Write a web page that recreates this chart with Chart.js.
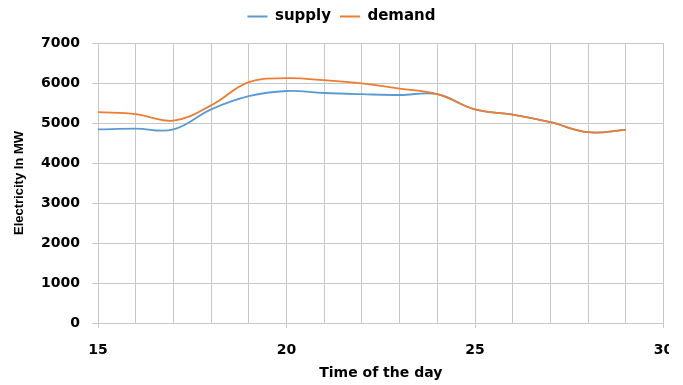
<!DOCTYPE html>
<html>
<head>
<meta charset="utf-8">
<script src="https://cdn.jsdelivr.net/npm/chart.js@4/dist/chart.umd.min.js"></script>
<style>
  html, body { margin: 0; padding: 0; background: #ffffff; overflow: hidden; }
  canvas { display: block; }
</style>
</head>
<body>
<canvas id="chart" width="683" height="385"></canvas>
<script>
// Hour of the day
const hours = [15, 16, 17, 18, 19, 20, 21, 22, 23, 24, 25, 26, 27, 28, 29];
// Electricity supply and demand in MW
const supply = [4840, 4860, 4840, 5340, 5670, 5800, 5750, 5720, 5700, 5720, 5340, 5210, 5020, 4770, 4830];
const demand = [5270, 5220, 5060, 5440, 6020, 6120, 6070, 5990, 5860, 5720, 5340, 5210, 5020, 4770, 4830];
// Axis ranges and labelled ticks
const xRange = [15, 30];
const xLabelEvery = 5;
const yRange = [0, 7000];
const yStep = 1000;

const BLUE = '#5B9BD5';
const ORANGE = '#ED7D31';
const GRID = '#c8c8c8';

const toPoints = (ys) => hours.map((h, i) => ({ x: h, y: ys[i] }));

// Reserve a fixed band above the plot for the legend and centre it on the canvas
const legendBand = {
  id: 'legendBand',
  beforeUpdate(chart) {
    const lg = chart.legend;
    if (lg && !lg._bandWrapped) {
      const fit = lg.fit.bind(lg);
      lg.fit = function () { fit(); this.height = 43; };
      lg._bandWrapped = true;
    }
  },
  afterLayout(chart) {
    const lg = chart.legend;
    if (lg) {
      lg.left = 0;
      lg.right = chart.width;
      lg.width = chart.width;
    }
  }
};

// The exported figure stops just past the last x tick
const trimRight = {
  id: 'trimRight',
  afterDraw(chart) {
    const ctx = chart.ctx;
    ctx.save();
    ctx.fillStyle = '#ffffff';
    ctx.fillRect(669, 0, chart.width - 669, chart.height);
    ctx.restore();
  }
};

new Chart(document.getElementById('chart'), {
  type: 'line',
  data: {
    datasets: [
      {
        label: 'supply',
        data: toPoints(supply),
        borderColor: BLUE,
        backgroundColor: BLUE,
        borderWidth: 1.8,
        pointRadius: 0,
        tension: 0.4,
        fill: false,
        order: 1
      },
      {
        label: 'demand',
        data: toPoints(demand),
        borderColor: ORANGE,
        backgroundColor: ORANGE,
        borderWidth: 1.8,
        pointRadius: 0,
        tension: 0.4,
        fill: false,
        order: 0
      }
    ]
  },
  options: {
    responsive: false,
    animation: false,
    layout: { padding: { left: 0, right: 19.5, top: 0, bottom: 0 } },
    plugins: {
      legend: {
        position: 'top',
        align: 'center',
        labels: {
          boxWidth: 20,
          boxHeight: 2,
          padding: 9,
          color: '#000000',
          font: { family: 'DejaVu Sans', weight: 'bold', size: 15 },
          sort: (a, b) => a.datasetIndex - b.datasetIndex,
          generateLabels(chart) {
            const items = Chart.defaults.plugins.legend.labels.generateLabels(chart);
            items.forEach((it) => { it.lineWidth = 0; });
            return items;
          }
        }
      },
      tooltip: { enabled: false }
    },
    scales: {
      x: {
        type: 'linear',
        min: xRange[0],
        max: xRange[1],
        afterFit(scale) {
          scale.height = 62;
          scale.paddingLeft = 0;
          scale.paddingRight = 0;
        },
        ticks: {
          stepSize: 1,
          autoSkip: false,
          maxRotation: 0,
          padding: 14,
          color: '#000000',
          font: { family: 'DejaVu Sans', weight: 'bold', size: 14 },
          callback: (v) => (v % xLabelEvery === 0 ? String(v) : '')
        },
        grid: {
          color: GRID,
          lineWidth: 1,
          tickLength: 5,
          tickColor: (c) => (c.tick && c.tick.value % xLabelEvery === 0 ? GRID : 'rgba(0,0,0,0)')
        },
        border: { color: GRID, width: 1 },
        title: {
          display: true,
          text: 'Time of the day',
          color: '#000000',
          font: { family: 'DejaVu Sans', weight: 'bold', size: 14 },
          padding: { top: 0, bottom: 3 }
        }
      },
      y: {
        min: yRange[0],
        max: yRange[1],
        afterFit(scale) { scale.width = 98; },
        ticks: {
          stepSize: yStep,
          padding: 12,
          color: '#000000',
          font: { family: 'DejaVu Sans', weight: 'bold', size: 14 },
          callback: (v) => String(v)
        },
        grid: {
          color: GRID,
          lineWidth: 1,
          tickLength: 6
        },
        border: { color: GRID, width: 1 },
        title: {
          display: true,
          text: 'Electricity In MW',
          color: '#000000',
          font: { family: 'Liberation Sans', weight: 'bold', size: 13 },
          padding: { top: 12, bottom: 0 }
        }
      }
    }
  },
  plugins: [legendBand, trimRight]
});
</script>
</body>
</html>
